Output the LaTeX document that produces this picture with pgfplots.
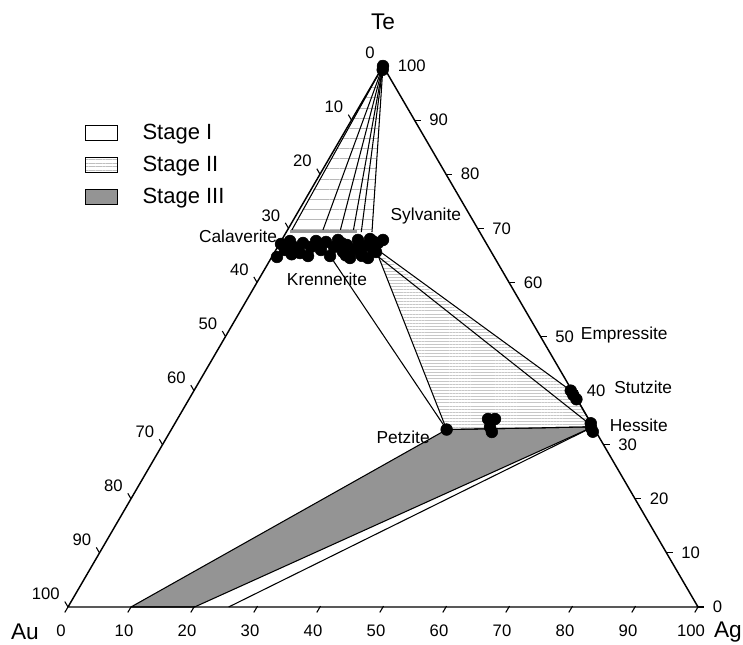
\documentclass[border=0pt]{standalone}
\usepackage{pgfplots}
\pgfplotsset{compat=1.18}
\usepackage{fontspec}
\setmainfont{Liberation Sans}
\usetikzlibrary{patterns.meta}
\pgfkeys{/pgfplots/table/tern/.style={x expr=\thisrow{Ag}+0.5*\thisrow{Te}, y expr=\thisrow{Te}}}
\newcommand\tseg[5][]{\addplot[black, line width=0.8pt, #1] table[tern,row sep=\\]{Ag Te\\ #2 #3\\ #4 #5\\};}
\newcommand\tickfont{\fontsize{12.5}{15}\selectfont}
\newcommand\mlab{\fontsize{13}{15}\selectfont}
\begin{document}
\begin{tikzpicture}
\begin{axis}[scale only axis, width=557.25pt, height=483.75pt,
  xmin=-10.794, xmax=107.143, ymin=-7.024, ymax=112.2,
  axis lines=none, clip=false,
  legend cell align=left,
  legend style={at={(axis cs:2.6,89.6)}, anchor=north west, draw=none, fill=none,
    font=\fontsize{16.5}{19}\selectfont, row sep=8pt, column sep=17pt, inner sep=0pt,
    nodes={inner sep=1.5pt}},
]
\path (rel axis cs:0,0) rectangle (rel axis cs:1,1);
% legend
\addlegendimage{legend image code/.code={\draw[black, line width=0.9pt, fill=white] (0pt,-5.6pt) rectangle (24pt,5.6pt);}}
\addlegendentry{Stage I}
\addlegendimage{legend image code/.code={\draw[black, line width=0.9pt, pattern={Lines[angle=0,distance=2.6pt,line width=0.35pt]}, pattern color=black!25] (0pt,-5.6pt) rectangle (24pt,5.6pt);}}
\addlegendentry{Stage II}
\addlegendimage{legend image code/.code={\draw[black, line width=0.9pt, fill=black!42] (0pt,-5.6pt) rectangle (24pt,5.6pt);}}
\addlegendentry{Stage III}

% Stage III (grey)
\addplot[draw=black, line width=0.8pt, fill=black!42] table[tern,row sep=\\]{Ag Te\\ 10.0 0\\ 43.7 32.8\\ 66.7 33.3\\ 20.1 0\\ 10.0 0\\};
% Stage I line
\tseg{25.5}{0}{66.7}{33.3}

% Stage II hatched: upper fan
\addplot[draw=none, pattern={Lines[angle=0,distance=7.6pt,line width=0.5pt]}, pattern color=black!28] table[tern,row sep=\\]{Ag Te\\ 0 100\\ 0.5 69.3\\ 13.6 69.3\\ 0 100\\};
\tseg{0}{100}{0.7}{69.3}
\tseg{0}{100}{5.7}{69.3}
\tseg{0}{100}{8.5}{69.3}
\tseg{0}{100}{10.6}{69.3}
\tseg{0}{100}{11.9}{69.3}
\tseg{0}{100}{13.6}{69.3}
\addplot[black!40, line width=2.5pt] table[tern,row sep=\\]{Ag Te\\ 0.6 69.4\\ 11.2 69.4\\};

% Stage II hatched: middle quadrilateral
\addplot[draw=none, pattern={Lines[angle=0,distance=2.3pt,line width=0.35pt]}, pattern color=black!22] table[tern,row sep=\\]{Ag Te\\ 16.2 65.6\\ 43.7 32.8\\ 66.7 33.3\\ 60.3 39.7\\ 16.2 65.6\\};
\tseg{16.2}{65.6}{43.7}{32.8}
\tseg{16.0}{65.3}{66.7}{33.3}
\tseg{16.5}{65.8}{60.3}{39.7}
\tseg{43.7}{32.8}{66.7}{33.3}
\tseg{10.0}{64.1}{43.7}{32.8}
\tseg{60.3}{39.7}{66.7}{33.3}

% analyses
\addplot[only marks, mark=*, mark size=4.4pt, black] table[tern,row sep=\\]{Ag Te\\
0 100\\ 0.3 99.3\\
0.82 64.70\\ 1.45 65.99\\ 1.41 67.65\\ 2.60 66.54\\ 4.11 65.43\\ 3.66 67.28\\
5.30 66.54\\ 5.55 67.65\\ 7.16 65.99\\ 7.22 67.47\\ 9.15 64.88\\ 8.95 66.54\\
8.94 67.84\\ 10.84 65.62\\ 10.83 66.91\\ 12.51 64.51\\ 12.47 66.17\\ 12.11 67.84\\
13.88 65.25\\ 13.78 66.73\\ 15.36 64.51\\ 13.93 68.02\\ 15.33 66.17\\ 15.57 67.28\\
16.08 67.84\\ 16.08 65.62\\ 0.26 67.10\\ 5.66 64.88\\
2.9 65.2\\ 6.4 66.9\\ 9.9 67.2\\ 11.6 65.0\\ 14.6 67.6\\ 14.2 64.9\\
43.7 32.8\\
49.3 34.75\\ 50.4 34.75\\ 50.35 33.27\\ 51.1 32.35\\
59.8 40.0\\ 60.6 39.2\\ 61.5 38.4\\
66.0 33.96\\ 66.5 33.09\\ 67.1 32.40\\
};

% triangle
\addplot[black, line width=1.1pt] table[tern,row sep=\\]{Ag Te\\ 0 0\\ 100 0\\ 0 100\\ 0 0\\};

% ticks and tick labels
\pgfplotsinvokeforeach{0,10,...,100}{
  \draw[line width=0.8pt] ([shift={(0.4pt,0.7pt)}]axis cs:#1,0) -- ([shift={(-2.4pt,-4.1pt)}]axis cs:#1,0);
  \node[font=\tickfont, inner sep=0pt] at ([shift={(-5.25pt,-18pt)}]axis cs:#1,0) {#1};
  \draw[line width=0.8pt] ([shift={(0pt,0pt)}]axis cs:{(100-#1)/2},{100-#1}) -- ([shift={(-2.4pt,4.1pt)}]axis cs:{(100-#1)/2},{100-#1});
  \node[font=\tickfont, anchor=east, inner sep=0pt] at ([shift={(-6pt,9.75pt)}]axis cs:{(100-#1)/2},{100-#1}) {#1};
  \draw[line width=0.8pt] ([shift={(0pt,0pt)}]axis cs:{100-#1/2},#1) -- ([shift={(4.5pt,0pt)}]axis cs:{100-#1/2},#1);
  \node[font=\tickfont, anchor=west, inner sep=0pt] at ([shift={(11pt,0pt)}]axis cs:{100-#1/2},#1) {#1};
}

% labels
\node[font=\fontsize{17}{20}\selectfont, inner sep=0pt] at (axis cs:50,108.1) {Te};
\node[font=\fontsize{17}{20}\selectfont, inner sep=0pt] at (axis cs:-6.83,-4.62) {Au};
\node[font=\fontsize{17}{20}\selectfont, inner sep=0pt, anchor=east] at (axis cs:107.0,-4.62) {Ag};
\node[font=\mlab] at (axis cs:56.8,72.3) {Sylvanite};
\node[font=\mlab] at (axis cs:27.0,68.6) {Calaverite};
\node[font=\mlab] at (axis cs:41.1,60.6) {Krennerite};
\node[font=\mlab] at (axis cs:88.3,50.3) {Empressite};
\node[font=\mlab] at (axis cs:91.3,40.7) {Stutzite};
\node[font=\mlab] at (axis cs:90.6,33.6) {Hessite};
\node[font=\mlab] at (axis cs:53.2,31.4) {Petzite};
\end{axis}
\end{tikzpicture}
\end{document}
